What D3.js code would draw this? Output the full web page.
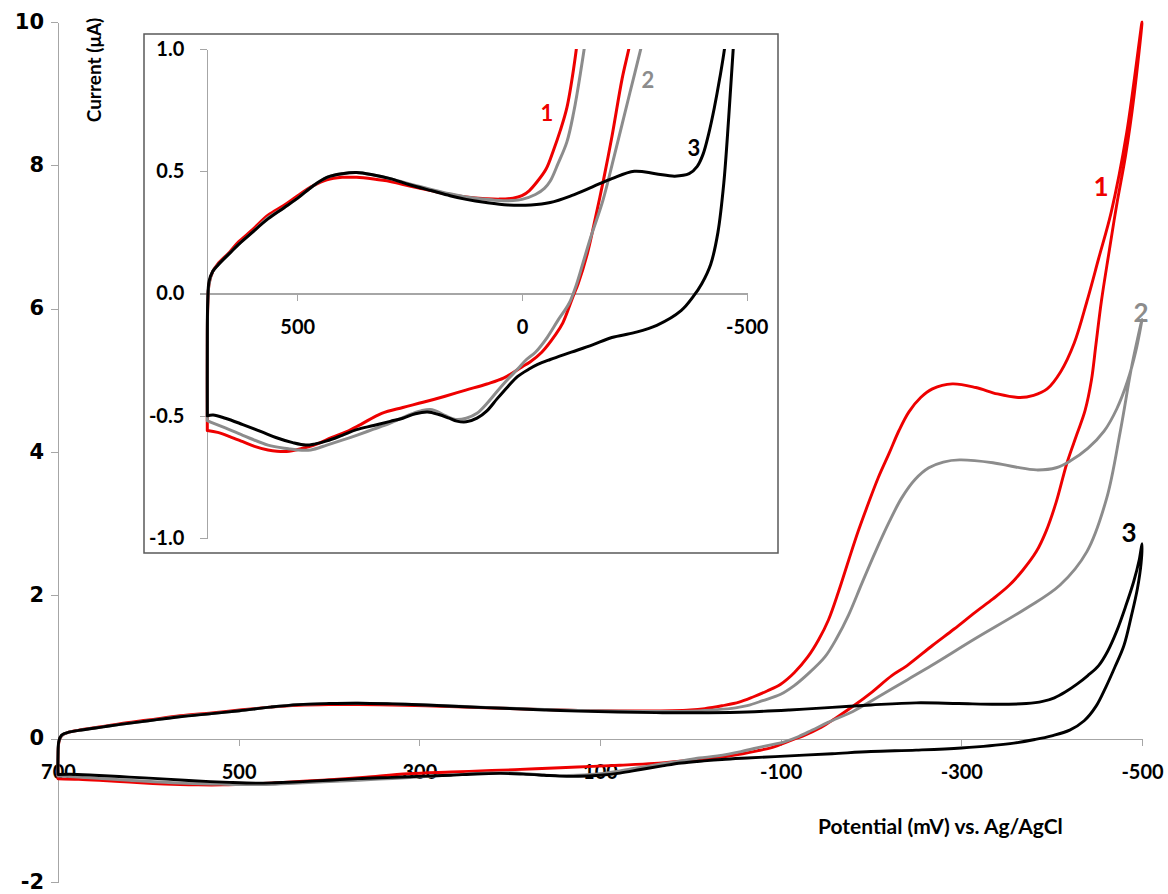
<!DOCTYPE html>
<html>
<head>
<meta charset="utf-8">
<script src="https://cdn.jsdelivr.net/npm/d3@7"></script>
<style>
  body { margin: 0; background: #fff; }
  .axis path, .axis line { stroke: #a6a6a6; stroke-width: 1.3; shape-rendering: crispEdges; }
  .axis text { fill: #000; font-weight: bold; }
  .main-y text { font-family: "DejaVu Sans", Verdana, sans-serif; font-size: 21px; }
  .main-x text, .inset-axis text { font-family: Lato, "Open Sans", sans-serif; font-size: 20px; }
  .title { font-family: Lato, "Open Sans", sans-serif; font-weight: bold; fill: #000; }
  .cv { fill: none; stroke-linejoin: round; stroke-linecap: round; }
</style>
</head>
<body>
<div id="chart"></div>
<script>
(function(){
  var width = 1168,
      height = 894;

  // curve 1 (red): scan 700 -> -500 mV and back, potential in mV, current in uA
  var cv1Potential = [700, 700, 699, 696, 688, 677, 650, 631, 600, 565, 530, 499, 465, 434, 400, 368, 330, 293, 250, 200, 160, 124, 80, 50, 20, 0,
    -16, -35, -54, -70, -85, -100, -115, -130, -142, -153, -164, -175, -186, -197, -208, -220, -231, -242, -255, -268, -290, -316, -340, -365, -380, -395, -410, -425, -439, -452, -466, -483, -500,
    -491, -482, -472, -463, -455, -449, -444, -437, -428, -417, -405, -394, -383, -368, -353, -335, -316, -292, -268, -240, -223, -200, -182, -160, -145, -125, -112, -91, -74, -44, -18, 0,
    40, 78, 125, 171, 220, 265, 312, 359, 390, 424, 455, 481, 518, 545, 565, 595, 621, 650, 677, 700];
  var cv1Current = [-0.56, -0.30, -0.05, 0.04, 0.09, 0.12, 0.17, 0.21, 0.26, 0.32, 0.36, 0.40, 0.44, 0.465, 0.475, 0.475, 0.468, 0.458, 0.44, 0.42, 0.405, 0.395, 0.388, 0.386, 0.39, 0.40,
    0.42, 0.46, 0.51, 0.585, 0.665, 0.76, 0.92, 1.14, 1.38, 1.66, 2.05, 2.48, 2.90, 3.28, 3.64, 3.98, 4.30, 4.56, 4.76, 4.88, 4.95, 4.90, 4.81, 4.76, 4.79, 4.88, 5.12, 5.52, 6.10, 6.70, 7.35, 8.45, 10.0,
    8.95, 8.15, 7.45, 6.75, 6.10, 5.50, 5.00, 4.58, 4.25, 3.85, 3.30, 2.90, 2.61, 2.35, 2.14, 1.95, 1.77, 1.53, 1.30, 1.02, 0.88, 0.64, 0.47, 0.28, 0.16, 0.04, -0.02, -0.12, -0.17, -0.24, -0.28, -0.30,
    -0.345, -0.37, -0.395, -0.42, -0.445, -0.466, -0.49, -0.536, -0.565, -0.59, -0.615, -0.63, -0.645, -0.645, -0.64, -0.625, -0.606, -0.585, -0.568, -0.56];

  // curve 2 (grey)
  var cv2Potential = [700, 700, 699, 696, 688, 677, 650, 631, 600, 565, 530, 499, 465, 434, 400, 368, 330, 293, 250, 200, 160, 124, 80, 50, 20, 0,
    -30, -50, -63, -80, -100, -115, -130, -149, -162, -175, -190, -205, -220, -234, -249, -264, -280, -298, -335, -360, -383, -405, -420, -440, -458, -472, -484, -493, -500,
    -489, -476, -461, -439, -409, -372, -316, -267, -240, -205, -180, -153, -135, -120, -105, -80, -56, -30, -10,
    10, 31, 55, 78, 100, 124, 148, 170, 200, 225, 250, 293, 330, 368, 400, 434, 470, 500, 520, 565, 621, 660, 687, 700];
  var cv2Current = [-0.52, -0.28, -0.04, 0.04, 0.09, 0.115, 0.165, 0.20, 0.25, 0.31, 0.35, 0.39, 0.44, 0.475, 0.49, 0.495, 0.485, 0.47, 0.448, 0.425, 0.408, 0.395, 0.385, 0.38, 0.38, 0.385,
    0.405, 0.43, 0.46, 0.53, 0.62, 0.74, 0.90, 1.14, 1.40, 1.72, 2.17, 2.61, 3.02, 3.36, 3.62, 3.78, 3.86, 3.89, 3.85, 3.79, 3.75, 3.78, 3.87, 4.05, 4.29, 4.60, 4.99, 5.40, 5.85,
    5.22, 4.29, 3.36, 2.61, 2.14, 1.82, 1.40, 1.02, 0.82, 0.56, 0.38, 0.23, 0.12, 0.03, -0.04, -0.11, -0.18, -0.24, -0.27,
    -0.31, -0.35, -0.40, -0.45, -0.49, -0.51, -0.515, -0.50, -0.475, -0.48, -0.495, -0.53, -0.555, -0.58, -0.60, -0.62, -0.64, -0.64, -0.635, -0.62, -0.58, -0.55, -0.53, -0.52];

  // curve 3 (black)
  var cv3Potential = [700, 700, 699, 696, 688, 677, 650, 631, 600, 565, 530, 499, 465, 434, 400, 368, 330, 293, 250, 200, 160, 124, 80, 31, -20,
    -63, -110, -157, -200, -250, -297, -340, -372, -390, -403, -415, -428, -440, -452, -462, -472, -482, -491, -497, -500,
    -499, -495, -488, -480, -470, -460, -449, -436, -420, -400, -382, -354, -300, -250, -200, -157, -110, -63, -35, -15,
    10, 31, 55, 78, 100, 124, 145, 162, 185, 210, 237, 265, 293, 330, 368, 400, 434, 460, 481, 510, 546, 580, 621, 660, 687, 700];
  var cv3Current = [-0.50, -0.25, -0.03, 0.05, 0.09, 0.115, 0.165, 0.20, 0.25, 0.305, 0.35, 0.39, 0.44, 0.475, 0.49, 0.495, 0.485, 0.47, 0.445, 0.42, 0.40, 0.385, 0.372, 0.362, 0.362,
    0.372, 0.40, 0.436, 0.47, 0.50, 0.49, 0.48, 0.49, 0.52, 0.57, 0.65, 0.76, 0.88, 1.02, 1.22, 1.50, 1.85, 2.20, 2.50, 2.72,
    2.45, 2.10, 1.70, 1.30, 1.00, 0.72, 0.45, 0.25, 0.12, 0.04, -0.01, -0.07, -0.13, -0.16, -0.18, -0.21, -0.24, -0.27, -0.29, -0.31,
    -0.34, -0.38, -0.43, -0.48, -0.51, -0.525, -0.522, -0.51, -0.495, -0.485, -0.492, -0.51, -0.523, -0.54, -0.557, -0.58, -0.603, -0.615, -0.62, -0.61, -0.59, -0.565, -0.536, -0.51, -0.497, -0.50];

  var curveNames = ["1", "2", "3"];
  var curveColors = ["#ee0000", "#8c8c8c", "#000000"];

  var mainXTicks = [700, 500, 300, 100, -100, -300, -500];
  var mainYTicks = [10, 8, 6, 4, 2, 0, -2];
  var insetXTicks = [500, 0, -500];
  var insetYTicks = [1.0, 0.5, 0.0, -0.5, -1.0];

  function toPoints(pot, cur) {
    return pot.map(function(v, i) { return { mv: v, ua: cur[i] }; });
  }

  var curves = [
    toPoints(cv1Potential, cv1Current),
    toPoints(cv2Potential, cv2Current),
    toPoints(cv3Potential, cv3Current)
  ];

  var svg = d3.select("#chart")
    .append("svg")
    .attr("width", width)
    .attr("height", height);

  svg.append("rect").attr("width", width).attr("height", height).attr("fill", "#fff");

  // ---- main chart ----
  var x = d3.scaleLinear().domain([700, -500]).range([58, 1142]);
  var y = d3.scaleLinear().domain([-2, 10]).range([882, 22]);

  var yAxisG = svg.append("g")
    .attr("class", "axis main-y")
    .attr("transform", "translate(" + x(700) + ",0)")
    .call(d3.axisLeft(y).tickValues(mainYTicks).tickSize(7).tickSizeOuter(0).tickPadding(7)
      .tickFormat(function(d) { return String(d).replace("\u2212", "-"); }));
  yAxisG.selectAll("text").attr("dy", "0.3em");

  svg.append("g")
    .attr("class", "axis main-x")
    .attr("transform", "translate(0," + y(0) + ")")
    .call(d3.axisBottom(x).tickValues(mainXTicks).tickSize(7).tickSizeOuter(0).tickPadding(19)
      .tickFormat(function(d) { return String(d); }));

  var mainLine = d3.line()
    .x(function(d) { return x(d.mv); })
    .y(function(d) { return y(d.ua); })
    .curve(d3.curveCatmullRom.alpha(0.5));

  svg.append("g").selectAll(".cv-main")
    .data(curves)
    .enter().append("path")
    .attr("class", "cv cv-main")
    .attr("stroke", function(d, i) { return curveColors[i]; })
    .attr("stroke-width", 2.9)
    .attr("d", mainLine);

  // curve numbers, placed next to each vertex
  var mainLabelPos = [[1101, 196], [1141, 322], [1129, 542]];
  svg.selectAll(".main-num")
    .data(curveNames)
    .enter().append("text")
    .attr("class", "title main-num")
    .attr("x", function(d, i) { return mainLabelPos[i][0]; })
    .attr("y", function(d, i) { return mainLabelPos[i][1]; })
    .attr("text-anchor", "middle")
    .style("font-size", "26px")
    .style("fill", function(d, i) { return curveColors[i]; })
    .text(function(d) { return d; });

  svg.append("text")
    .attr("class", "title")
    .attr("x", 818)
    .attr("y", 834)
    .style("font-size", "21px")
    .text("Potential (mV) vs. Ag/AgCl");

  svg.append("text")
    .attr("class", "title")
    .attr("transform", "translate(101,70) rotate(-90)")
    .attr("text-anchor", "middle")
    .style("font-size", "19px")
    .text("Current (\u03bcA)");

  // ---- inset ----
  var inset = svg.append("g").attr("class", "inset");

  inset.append("rect")
    .attr("x", 144).attr("y", 34)
    .attr("width", 634).attr("height", 519)
    .attr("fill", "#fff")
    .attr("stroke", "#595959")
    .attr("stroke-width", 1.5);

  var xi = d3.scaleLinear().domain([700, -500]).range([207.3, 746.7]);
  var yi = d3.scaleLinear().domain([-1, 1]).range([538, 49]);

  inset.append("g")
    .attr("class", "axis inset-axis")
    .attr("transform", "translate(" + xi(700) + ",0)")
    .call(d3.axisLeft(yi).tickValues(insetYTicks).tickSize(7).tickSizeOuter(0).tickPadding(16)
      .tickFormat(function(d) { return d.toFixed(1); }));

  inset.append("g")
    .attr("class", "axis inset-axis")
    .attr("transform", "translate(0," + yi(0) + ")")
    .call(d3.axisBottom(xi).tickValues(insetXTicks).tickSize(7).tickSizeOuter(7).tickPadding(19)
      .tickFormat(function(d) { return String(d); }));

  svg.append("defs").append("clipPath")
    .attr("id", "inset-clip")
    .append("rect")
    .attr("x", 145).attr("y", yi(1))
    .attr("width", 632).attr("height", 553 - yi(1) - 1);

  var insetLine = d3.line()
    .x(function(d) { return xi(d.mv); })
    .y(function(d) { return yi(d.ua); })
    .curve(d3.curveCatmullRom.alpha(0.5));

  inset.append("g")
    .attr("clip-path", "url(#inset-clip)")
    .selectAll(".cv-inset")
    .data(curves)
    .enter().append("path")
    .attr("class", "cv cv-inset")
    .attr("stroke", function(d, i) { return curveColors[i]; })
    .attr("stroke-width", 3)
    .attr("d", insetLine);

  var insetLabelPos = [[547, 121], [648, 88], [694, 156]];
  inset.selectAll(".inset-num")
    .data(curveNames)
    .enter().append("text")
    .attr("class", "title inset-num")
    .attr("x", function(d, i) { return insetLabelPos[i][0]; })
    .attr("y", function(d, i) { return insetLabelPos[i][1]; })
    .attr("text-anchor", "middle")
    .style("font-size", "22px")
    .style("fill", function(d, i) { return curveColors[i]; })
    .text(function(d) { return d; });
})();
</script>
</body>
</html>
